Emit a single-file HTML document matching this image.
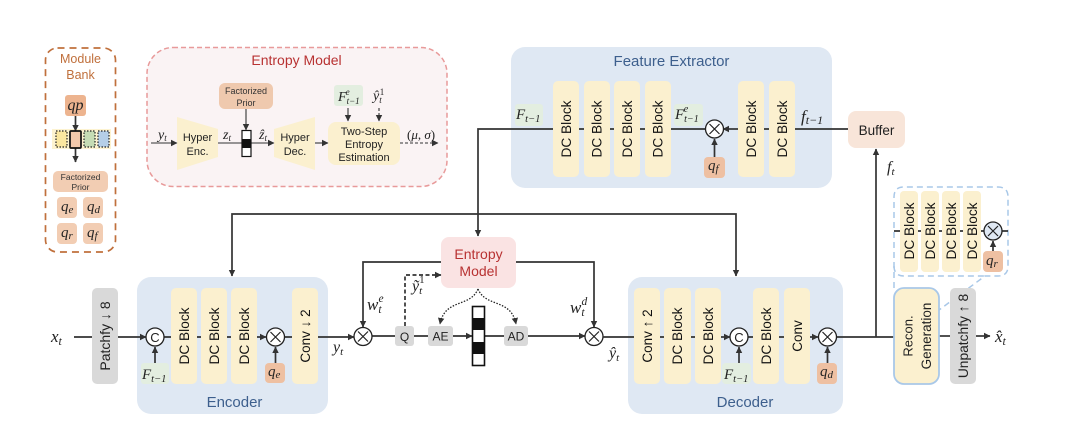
<!DOCTYPE html>
<html><head><meta charset="utf-8">
<style>
html,body{margin:0;padding:0;background:#fff;width:1080px;height:438px;overflow:hidden}
svg{display:block;filter:blur(.35px)}
text{font-family:"Liberation Sans",sans-serif;text-anchor:middle}
.m{font-family:"Liberation Serif",serif;font-style:italic;text-anchor:start;fill:#222}
.n{font-style:normal}
.dc{font-size:13.700px;fill:#111}
.l{fill:none;stroke:#333;stroke-width:1.700}
.t{fill:none;stroke:#333;stroke-width:1.100}
.o{fill:#fff;stroke:#222;stroke-width:1.300}
.x{stroke:#222;stroke-width:1.200}
</style></head><body>
<svg width="1080" height="438" viewBox="0 0 1080 438" xmlns="http://www.w3.org/2000/svg">
<defs>
<marker id="a" markerUnits="userSpaceOnUse" markerWidth="7" markerHeight="7" refX="6" refY="3.500" orient="auto"><path d="M0 .3L6.500 3.500L0 6.700z" fill="#333"/></marker>
<g id="ot"><circle r="9" class="o"/><path d="M-5-5L5 5M-5 5L5-5" class="x"/></g>
<g id="oc"><circle r="9" class="o"/></g>
</defs>

<!-- Module bank -->
<rect x="45.500" y="48" width="70" height="204" rx="12" fill="#fff" stroke="#c0703c" stroke-width="1.700" stroke-dasharray="7 5"/>
<text x="80.500" y="63" font-size="12.500" fill="#c0703c">Module</text>
<text x="80.500" y="79" font-size="12.500" fill="#c0703c">Bank</text>
<rect x="65" y="95" width="21" height="21" rx="3" fill="#edb48f"/>
<text x="75.500" y="110" class="m" style="text-anchor:middle" font-size="16">qp</text>
<rect x="52" y="129" width="59" height="20" fill="#fdf3d0"/>
<rect x="56" y="131" width="11" height="16" fill="#fbe7a0" stroke="#222" stroke-width="1.200" stroke-dasharray="1.500 1.500"/>
<rect x="84" y="131" width="11" height="16" fill="#c5dcb5" stroke="#222" stroke-width="1.200" stroke-dasharray="1.500 1.500"/>
<rect x="98" y="131" width="11" height="16" fill="#b5cfe8" stroke="#222" stroke-width="1.200" stroke-dasharray="1.500 1.500"/>
<path d="M75.500 116V131" class="l" marker-end="url(#a)"/>
<path d="M75.500 148V162" class="l" marker-end="url(#a)"/>
<rect x="70" y="131" width="11" height="17" rx="1" fill="#f3c9ac" stroke="#111" stroke-width="1.700"/>
<rect x="53" y="171" width="55" height="21" rx="5" fill="#f2cdb3"/>
<text x="80.500" y="180" font-size="8.500" fill="#333">Factorized</text>
<text x="80.500" y="190" font-size="8.500" fill="#333">Prior</text>
<rect x="57" y="197" width="20" height="21" rx="4" fill="#f2cdb3"/>
<rect x="83" y="197" width="20" height="21" rx="4" fill="#f2cdb3"/>
<rect x="57" y="223" width="20" height="21" rx="4" fill="#f2cdb3"/>
<rect x="83" y="223" width="20" height="21" rx="4" fill="#f2cdb3"/>
<text x="61" y="211" class="m" font-size="15">q<tspan font-size="11" dy="2">e</tspan></text>
<text x="87" y="211" class="m" font-size="15">q<tspan font-size="11" dy="2">d</tspan></text>
<text x="61" y="237" class="m" font-size="15">q<tspan font-size="11" dy="2">r</tspan></text>
<text x="87" y="237" class="m" font-size="15">q<tspan font-size="11" dy="2">f</tspan></text>

<!-- Entropy model detail -->
<rect x="147" y="47.500" width="300" height="139" rx="26" fill="#faf3f4" stroke="#e89a9a" stroke-width="1.500" stroke-dasharray="5 3"/>
<text x="296.500" y="65" font-size="14" fill="#b83232">Entropy Model</text>
<rect x="219" y="83" width="54" height="26" rx="6" fill="#efc9ae"/>
<text x="246" y="94" font-size="9" fill="#333">Factorized</text>
<text x="246" y="106" font-size="9" fill="#333">Prior</text>
<path d="M177 117L218 129V157L177 170z" fill="#fbf0cf"/>
<path d="M274 129L315 117V170L274 157z" fill="#fbf0cf"/>
<text x="197.500" y="141" font-size="11" fill="#222">Hyper</text>
<text x="197.500" y="155" font-size="11" fill="#222">Enc.</text>
<text x="295" y="141" font-size="11" fill="#222">Hyper</text>
<text x="295" y="155" font-size="11" fill="#222">Dec.</text>
<rect x="328" y="122" width="72" height="43" rx="8" fill="#fbf0cf"/>
<text x="364" y="135" font-size="11" fill="#222">Two-Step</text>
<text x="364" y="148" font-size="11" fill="#222">Entropy</text>
<text x="364" y="161" font-size="11" fill="#222">Estimation</text>
<rect x="334" y="85" width="29" height="21" rx="3" fill="#e3eee0"/>
<path d="M151 143H177" class="t" marker-end="url(#a)"/>
<path d="M218 143H242" class="t"/>
<path d="M251 143H274" class="t" marker-end="url(#a)"/>
<path d="M315 143H328" class="t" marker-end="url(#a)"/>
<path d="M246 109V130" class="t" marker-end="url(#a)"/>
<path d="M348 108V121" class="t" marker-end="url(#a)"/>
<path d="M379 108V121" class="t" stroke-dasharray="3 2" marker-end="url(#a)"/>
<path d="M400 143H438" class="t" stroke-dasharray="3 2" marker-end="url(#a)"/>
<rect x="242" y="130.500" width="9" height="26" fill="#fff" stroke="#111" stroke-width="1.200"/>
<rect x="242" y="139" width="9" height="9" fill="#111"/>
<text x="158" y="139" class="m" font-size="14">y<tspan font-size="9" dy="2">t</tspan></text>
<text x="223" y="139" class="m" font-size="14">z<tspan font-size="9" dy="2">t</tspan></text>
<text x="259" y="139" class="m" font-size="14">ẑ<tspan font-size="9" dy="2">t</tspan></text>
<text x="338" y="101" class="m" font-size="14">F<tspan font-size="9" dy="3">t−1</tspan><tspan font-size="9" dx="-14" dy="-9">e</tspan></text>
<text x="373" y="100" class="m" font-size="14">ŷ<tspan font-size="9" dy="3">t</tspan><tspan class="n" font-size="9" dx="-2" dy="-8">1</tspan></text>
<text x="407" y="139" class="m n" font-size="13">(<tspan style="font-style:italic">μ</tspan>, <tspan style="font-style:italic">σ</tspan>)</text>

<!-- Feature extractor -->
<rect x="511" y="47" width="321" height="141" rx="14" fill="#dfe8f3"/>
<text x="671.500" y="66" font-size="15" fill="#3d5f8d">Feature Extractor</text>
<rect x="515" y="104" width="28" height="22" rx="3" fill="#e3eee0"/>
<rect x="674" y="104" width="29" height="22" rx="3" fill="#e3eee0"/>
<path d="M553 129H478V236" class="l" marker-end="url(#a)"/>
<path d="M671 129H705M848 129H795M769 129H764M640 129H645M610 129H614M579 129H584" class="l"/>
<path d="M738 129H723" class="l" marker-end="url(#a)"/>
<g fill="#fbf0cf">
<rect x="553" y="81" width="26" height="96" rx="5"/><rect x="584" y="81" width="26" height="96" rx="5"/><rect x="614" y="81" width="26" height="96" rx="5"/><rect x="645" y="81" width="26" height="96" rx="5"/><rect x="738" y="81" width="26" height="96" rx="5"/><rect x="769" y="81" width="26" height="96" rx="5"/>
</g>
<text class="dc" transform="translate(571 129) rotate(-90)">DC Block</text>
<text class="dc" transform="translate(601.500 129) rotate(-90)">DC Block</text>
<text class="dc" transform="translate(632 129) rotate(-90)">DC Block</text>
<text class="dc" transform="translate(662.500 129) rotate(-90)">DC Block</text>
<text class="dc" transform="translate(756 129) rotate(-90)">DC Block</text>
<text class="dc" transform="translate(787 129) rotate(-90)">DC Block</text>
<path d="M714.500 157V139" class="l" marker-end="url(#a)"/>
<use href="#ot" x="714.500" y="129"/>
<rect x="704" y="157" width="21" height="21" rx="4" fill="#eec0a2"/>
<text x="708" y="170" class="m" font-size="15">q<tspan font-size="11" dy="2">f</tspan></text>
<text x="516" y="119" class="m" font-size="15">F<tspan font-size="10.500" dy="3">t−1</tspan></text>
<text x="675" y="119" class="m" font-size="15">F<tspan font-size="10" dy="3">t−1</tspan><tspan font-size="10" dx="-15" dy="-10">e</tspan></text>
<text x="801" y="122" class="m" font-size="17">f<tspan font-size="12" dy="2">t−1</tspan></text>
<rect x="848" y="111" width="57" height="37" rx="8" fill="#f8e5d9"/>
<text x="876.500" y="135" font-size="13.500" fill="#222">Buffer</text>
<text x="887" y="172" class="m" font-size="16">f<tspan font-size="11" dy="3">t</tspan></text>

<!-- long connectors -->
<path d="M478 214H232V276" class="l" marker-end="url(#a)"/>
<path d="M478 214H736V276" class="l" marker-end="url(#a)"/>
<path d="M876 337V149" class="l" marker-end="url(#a)"/>

<!-- Encoder -->
<rect x="137" y="277" width="191" height="137" rx="14" fill="#dfe8f3"/>
<text x="234.500" y="407" font-size="15" fill="#3d5f8d">Encoder</text>
<rect x="141" y="363" width="28" height="21" rx="3" fill="#e3eee0"/>
<path d="M74 337H92" class="l"/>
<path d="M118 337H146" class="l" marker-end="url(#a)"/>
<path d="M257 337H266" class="l" marker-end="url(#a)"/>
<path d="M318 337H354" class="l" marker-end="url(#a)"/>
<path d="M164 337H171M197 337H201M227 337H231M284 337H292" class="l"/>
<rect x="92" y="288" width="26" height="96" rx="5" fill="#d9d9d9"/>
<text font-size="14" fill="#222" transform="translate(110 336) rotate(-90)">Patchfy ↓ 8</text>
<g fill="#fbf0cf">
<rect x="171" y="288" width="26" height="96" rx="5"/><rect x="201" y="288" width="26" height="96" rx="5"/><rect x="231" y="288" width="26" height="96" rx="5"/><rect x="292" y="288" width="26" height="96" rx="5"/>
</g>
<text class="dc" transform="translate(189 336) rotate(-90)">DC Block</text>
<text class="dc" transform="translate(219 336) rotate(-90)">DC Block</text>
<text class="dc" transform="translate(249 336) rotate(-90)">DC Block</text>
<text font-size="13.500" fill="#111" transform="translate(310 336) rotate(-90)">Conv ↓ 2</text>
<path d="M155 363V347" class="l" marker-end="url(#a)"/>
<path d="M275.500 363V347" class="l" marker-end="url(#a)"/>
<use href="#oc" x="155" y="337"/>
<text x="155" y="342" font-size="13" fill="#222">C</text>
<use href="#ot" x="275.500" y="337"/>
<rect x="265" y="363" width="20" height="20" rx="4" fill="#eec0a2"/>
<text x="268" y="376" class="m" font-size="15">q<tspan font-size="11" dy="2">e</tspan></text>
<text x="142" y="379" class="m" font-size="15">F<tspan font-size="10.500" dy="3">t−1</tspan></text>
<text x="51" y="342" class="m" font-size="17">x<tspan font-size="12" dy="3">t</tspan></text>
<text x="333" y="352" class="m" font-size="16">y<tspan font-size="11" dy="3">t</tspan></text>

<!-- Middle -->
<rect x="441" y="237" width="75" height="51" rx="8" fill="#fae3e3"/>
<text x="478.500" y="259" font-size="14" fill="#b83232">Entropy</text>
<text x="478.500" y="276" font-size="14" fill="#b83232">Model</text>
<path d="M441 262H363V327" class="l" marker-end="url(#a)"/>
<path d="M516 262H594V327" class="l" marker-end="url(#a)"/>
<path d="M405 326V275H441" class="l" stroke-dasharray="4 2.500" marker-end="url(#a)"/>
<path d="M478 289C470 308 445 298 440 324" fill="none" stroke="#222" stroke-width="1.300" stroke-dasharray="1.500 1.500" marker-end="url(#a)"/>
<path d="M478 289C486 308 511 298 516 324" fill="none" stroke="#222" stroke-width="1.300" stroke-dasharray="1.500 1.500" marker-end="url(#a)"/>
<path d="M372 336H395M414 336H428M485 336H504" class="l"/>
<path d="M453 336H472" class="l" marker-end="url(#a)"/>
<path d="M528 336H585" class="l" marker-end="url(#a)"/>
<use href="#ot" x="363" y="336.500"/>
<use href="#ot" x="594" y="336.500"/>
<rect x="395" y="326" width="19" height="20" rx="3" fill="#d9d9d9"/>
<rect x="428" y="326" width="25" height="20" rx="3" fill="#d9d9d9"/>
<rect x="504" y="326" width="24" height="20" rx="3" fill="#d9d9d9"/>
<text x="404.500" y="341" font-size="12" fill="#222">Q</text>
<text x="440.500" y="340.500" font-size="12" fill="#222">AE</text>
<text x="516" y="340.500" font-size="12" fill="#222">AD</text>
<rect x="472.500" y="306.500" width="12" height="59" fill="#fff" stroke="#111" stroke-width="1.600"/>
<rect x="472.500" y="318" width="12" height="12" fill="#111"/>
<rect x="472.500" y="342" width="12" height="12" fill="#111"/>
<text x="367" y="310" class="m" font-size="17">w<tspan font-size="11.500" dy="3">t</tspan><tspan font-size="11.500" dx="-3" dy="-11">e</tspan></text>
<text x="570" y="313" class="m" font-size="17">w<tspan font-size="11.500" dy="3">t</tspan><tspan font-size="11.500" dx="-3" dy="-11">d</tspan></text>
<text x="412" y="291" class="m" font-size="16">ỹ<tspan font-size="11" dy="3">t</tspan><tspan class="n" font-size="11" dx="-3" dy="-11">1</tspan></text>
<text x="609" y="358" class="m" font-size="16">ŷ<tspan font-size="11" dy="3">t</tspan></text>

<!-- Decoder -->
<rect x="628" y="277" width="215" height="137" rx="14" fill="#dfe8f3"/>
<text x="745" y="407" font-size="15" fill="#3d5f8d">Decoder</text>
<rect x="722" y="363" width="29" height="21" rx="4" fill="#e3eee0"/>
<path d="M603 337H634M660 337H664M691 337H695M748 337H753M779 337H784" class="l"/>
<path d="M721 337H730" class="l" marker-end="url(#a)"/>
<path d="M810 337H818" class="l" marker-end="url(#a)"/>
<path d="M836 337H894" class="l"/>
<g fill="#fbf0cf">
<rect x="634" y="288" width="26" height="96" rx="5"/><rect x="664" y="288" width="27" height="96" rx="5"/><rect x="695" y="288" width="26" height="96" rx="5"/><rect x="753" y="288" width="26" height="96" rx="5"/><rect x="784" y="288" width="26" height="96" rx="5"/>
</g>
<text font-size="13.500" fill="#111" transform="translate(652 336) rotate(-90)">Conv ↑ 2</text>
<text class="dc" transform="translate(682 336) rotate(-90)">DC Block</text>
<text class="dc" transform="translate(713 336) rotate(-90)">DC Block</text>
<text class="dc" transform="translate(771 336) rotate(-90)">DC Block</text>
<text font-size="13.500" fill="#111" transform="translate(802 336) rotate(-90)">Conv</text>
<path d="M739 363V347" class="l" marker-end="url(#a)"/>
<path d="M827.500 363V347" class="l" marker-end="url(#a)"/>
<use href="#oc" x="739" y="337"/>
<text x="739" y="342" font-size="13" fill="#222">C</text>
<use href="#ot" x="827.500" y="337"/>
<rect x="817" y="363" width="20" height="21" rx="4" fill="#eec0a2"/>
<text x="820" y="376" class="m" font-size="15">q<tspan font-size="11" dy="2">d</tspan></text>
<text x="724" y="379" class="m" font-size="15">F<tspan font-size="10.500" dy="3">t−1</tspan></text>

<!-- Recon -->
<path d="M894 288V197Q894 187 904 187H998Q1008 187 1008 197V266Q1008 276 998 276H985L939 310" fill="none" stroke="#a9c8e8" stroke-width="1.500" stroke-dasharray="6 4"/>
<path d="M894 266Q894 276 904 276H985" fill="none" stroke="#a9c8e8" stroke-width="1.500" stroke-dasharray="6 4"/>
<path d="M894 231H900M918 231H921M939 231H942M960 231H963M981 231H984M1002 231H1008" class="l"/>
<g fill="#fbf0cf">
<rect x="900" y="191" width="18" height="81" rx="4"/><rect x="921" y="191" width="18" height="81" rx="4"/><rect x="942" y="191" width="18" height="81" rx="4"/><rect x="963" y="191" width="18" height="81" rx="4"/>
</g>
<text class="dc" transform="translate(914 231) rotate(-90)">DC Block</text>
<text class="dc" transform="translate(935 231) rotate(-90)">DC Block</text>
<text class="dc" transform="translate(956 231) rotate(-90)">DC Block</text>
<text class="dc" transform="translate(977 231) rotate(-90)">DC Block</text>
<path d="M993 251V241" class="l" marker-end="url(#a)"/>
<circle cx="993" cy="231" r="9" fill="#dfe8f3" stroke="#222" stroke-width="1.300"/>
<path d="M988 226L998 236M988 236L998 226" class="x"/>
<rect x="983" y="251" width="20" height="21" rx="4" fill="#eec0a2"/>
<text x="986" y="265" class="m" font-size="15">q<tspan font-size="11" dy="2">r</tspan></text>
<path d="M939 336H950" class="l"/>
<path d="M976 336H990" class="l" marker-end="url(#a)"/>
<rect x="894" y="288" width="45" height="96" rx="10" fill="#fbf0cf" stroke="#a9c8e8" stroke-width="1.800"/>
<text font-size="13" fill="#222" transform="translate(912.500 336) rotate(-90)">Recon.</text>
<text font-size="13.500" fill="#222" transform="translate(931 336) rotate(-90)">Generation</text>
<rect x="950" y="288" width="26" height="96" rx="5" fill="#d9d9d9"/>
<text font-size="13.800" fill="#222" transform="translate(968 336) rotate(-90)">Unpatchfy ↑ 8</text>
<text x="995" y="342" class="m" font-size="17">x̂<tspan font-size="12" dy="3">t</tspan></text>
</svg>
</body></html>
